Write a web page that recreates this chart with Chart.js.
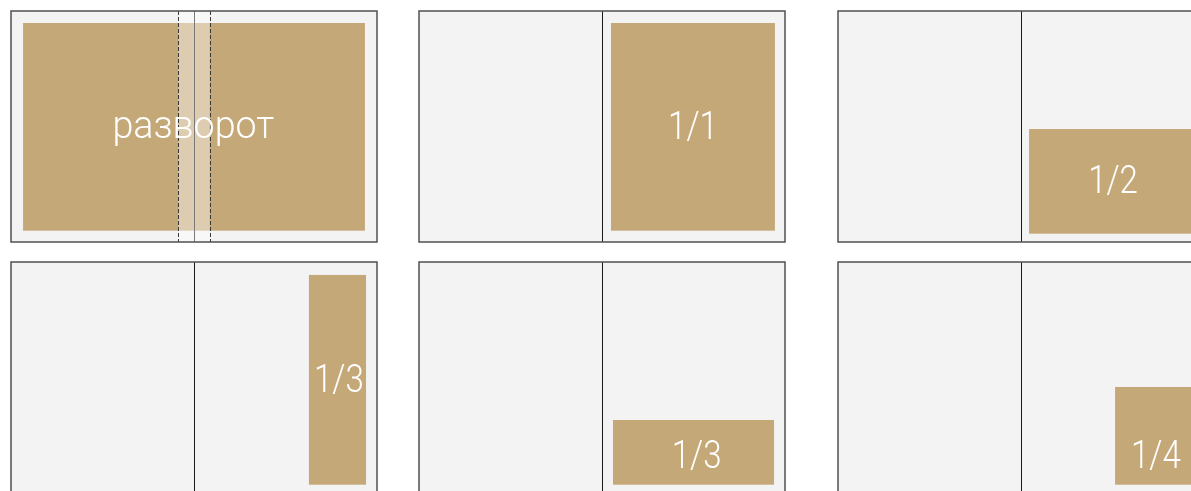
<!DOCTYPE html>
<html>
<head>
<meta charset="utf-8">
<script src="https://cdn.jsdelivr.net/npm/chart.js@4.4.1/dist/chart.umd.min.js"></script>
<style>
  html, body { margin: 0; padding: 0; background: #ffffff; width: 1191px; height: 491px; overflow: hidden; }
  .panel { position: absolute; }
</style>
</head>
<body>
<script>
// Ad formats shown on a two-page spread (x: 0..2 pages, y: 0..1 page height)
const formats = ['разворот', '1/1', '1/2', '1/3', '1/3', '1/4'];
const adX0 = [0.066, 1.049, 1.044, 1.628, 1.060, 1.514];
const adX1 = [1.934, 1.945, 1.945, 1.940, 1.940, 1.945];
const adY0 = [0.052, 0.052, 0.511, 0.056, 0.684, 0.541];
const adY1 = [0.951, 0.951, 0.964, 0.964, 0.964, 0.964];
const labelX = [0.996, 1.497, 1.503, 1.792, 1.517, 1.737];
const labelY = [0.551, 0.556, 0.789, 0.561, 0.893, 0.893];
const bleedX = [0.914, 1.086]; // spine bleed band for the spread
const hasBleed = [true, false, false, false, false, false];

const panelLeft = [11, 419, 838, 11, 419, 838];
const panelTop = [11, 11, 11, 262, 262, 262];
const PAD = 3;
const PW = 366, PH = 231;
const condense = [0.99, 0.87, 0.87, 0.87, 0.87, 0.87];

const GOLD = '#c5a878';
const PAGE = '#f3f3f3';

const spreadPlugin = {
  id: 'spread',
  beforeDatasetsDraw(chart) {
    const i = chart.options.plugins.spread.index;
    const ctx = chart.ctx;
    const xs = chart.scales.x, ys = chart.scales.y;
    const px = v => xs.getPixelForValue(v);
    const py = v => ys.getPixelForValue(v);
    ctx.save();
    // page background
    ctx.fillStyle = PAGE;
    ctx.fillRect(px(0), py(0), px(2) - px(0), py(1) - py(0));
    // ad block
    ctx.fillStyle = GOLD;
    ctx.fillRect(px(adX0[i]), py(adY0[i]), px(adX1[i]) - px(adX0[i]), py(adY1[i]) - py(adY0[i]));
    // spine
    ctx.strokeStyle = '#1a1a1a';
    ctx.lineWidth = 1;
    ctx.beginPath();
    ctx.moveTo(Math.round(px(1)) + 0.5, py(0));
    ctx.lineTo(Math.round(px(1)) + 0.5, py(1));
    ctx.stroke();
    if (hasBleed[i]) {
      ctx.fillStyle = 'rgba(255,255,255,0.42)';
      ctx.fillRect(px(bleedX[0]), py(0), px(bleedX[1]) - px(bleedX[0]), py(1) - py(0));
      ctx.strokeStyle = '#3a3a3a';
      ctx.setLineDash([4, 2]);
      ctx.lineWidth = 1;
      bleedX.forEach(b => {
        ctx.beginPath();
        ctx.moveTo(Math.round(px(b)) + 0.5, py(0));
        ctx.lineTo(Math.round(px(b)) + 0.5, py(1));
        ctx.stroke();
      });
      ctx.setLineDash([]);
    }
    // label
    ctx.save();
    ctx.translate(px(labelX[i]), py(labelY[i]));
    ctx.scale(condense[i], 1);
    ctx.fillStyle = '#ffffff';
    ctx.font = '300 38px Roboto, "Open Sans", sans-serif';
    ctx.textAlign = 'center';
    ctx.textBaseline = 'alphabetic';
    ctx.fillText(formats[i], 0, 0);
    ctx.restore();
    // outer border
    ctx.strokeStyle = '#505050';
    ctx.lineWidth = 1.5;
    ctx.strokeRect(px(0), py(0), px(2) - px(0), py(1) - py(0));
    ctx.restore();
  }
};

formats.forEach((f, i) => {
  const c = document.createElement('canvas');
  c.className = 'panel';
  c.width = PW + 2 * PAD;
  c.height = PH + 2 * PAD;
  c.style.left = (panelLeft[i] - PAD) + 'px';
  c.style.top = (panelTop[i] - PAD) + 'px';
  document.body.appendChild(c);
  new Chart(c, {
    type: 'scatter',
    data: { datasets: [{ label: f, data: [] }] },
    options: {
      responsive: false,
      animation: false,
      devicePixelRatio: 1,
      layout: { padding: PAD },
      scales: {
        x: { type: 'linear', min: 0, max: 2, display: false },
        y: { type: 'linear', min: 0, max: 1, reverse: true, display: false }
      },
      plugins: {
        legend: { display: false },
        tooltip: { enabled: false },
        spread: { index: i }
      }
    },
    plugins: [spreadPlugin]
  });
});
</script>
</body>
</html>
